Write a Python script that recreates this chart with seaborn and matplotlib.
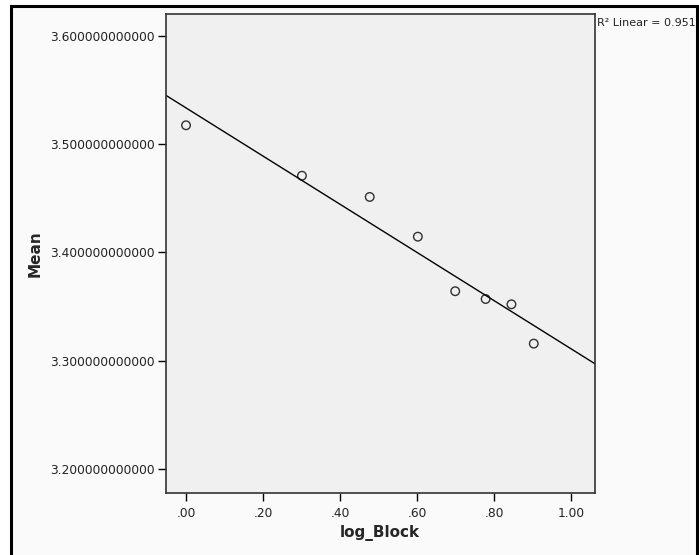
import numpy as np
import pandas as pd
import seaborn as sns
import matplotlib.pyplot as plt
from matplotlib.patches import Rectangle

# Data
log_block = [0.000, 0.301, 0.477, 0.602, 0.699, 0.778, 0.845, 0.903]
mean_vals = [3.5175, 3.4709, 3.4513, 3.4146, 3.3642, 3.3570, 3.3521, 3.3158]
x_ticks = [0.0, 0.2, 0.4, 0.6, 0.8, 1.0]
x_tick_labels = [".00", ".20", ".40", ".60", ".80", "1.00"]
y_ticks = [3.2, 3.3, 3.4, 3.5, 3.6]
y_tick_labels = ["3.200000000000", "3.300000000000", "3.400000000000",
                 "3.500000000000", "3.600000000000"]
r2_text = "R\u00b2 Linear = 0.951"

df = pd.DataFrame({"log_Block": log_block, "Mean": mean_vals})

sns.set_style("white")
plt.rcParams["font.family"] = ["DejaVu Sans"]

fig = plt.figure(figsize=(6.99, 5.55), dpi=100)
fig.patch.set_facecolor("white")

# outer frame (light background with black border)
frame = Rectangle((10.5 / 699, -0.02), (697 - 10.5) / 699, 1 - 5.5 / 555 + 0.02,
                  transform=fig.transFigure, facecolor="#fafafa",
                  edgecolor="black", linewidth=2.2, zorder=-5)
fig.patches.append(frame)

ax = fig.add_axes([166 / 699, 1 - 493 / 555, (595 - 166) / 699, (493 - 14) / 555])
ax.set_zorder(2)
ax.set_facecolor("#f0f0f0")
ax.set_xlim(-0.052, 1.062)
ax.set_ylim(3.1778, 3.6203)

sns.regplot(data=df, x="log_Block", y="Mean", ax=ax, ci=None, truncate=False,
            scatter_kws=dict(s=38, facecolors="none", edgecolors="black",
                             linewidths=1.0, zorder=3),
            line_kws=dict(color="black", linewidth=1.0, zorder=2))
ax.set_xlim(-0.052, 1.062)
ax.set_ylim(3.1778, 3.6203)

ax.set_xticks(x_ticks)
ax.set_xticklabels(x_tick_labels, fontsize=8.8)
ax.set_yticks(y_ticks)
ax.set_yticklabels(y_tick_labels, fontsize=8.8)
ax.tick_params(axis="both", direction="out", length=6, width=1.0, color="black",
               pad=2, labelcolor="#222222")
ax.tick_params(axis="x", pad=4)
ax.tick_params(axis="both", which="both", bottom=True, left=True)

for side in ["left", "right", "top", "bottom"]:
    ax.spines[side].set_visible(True)
    ax.spines[side].set_color("#333333")
    ax.spines[side].set_linewidth(1.2)

ax.set_xlabel("log_Block", fontsize=11, fontweight="bold")
ax.set_ylabel("Mean", fontsize=11, fontweight="bold")
ax.xaxis.set_label_coords((380 - 166) / 429, (493 - 525) / 479)
ax.yaxis.set_label_coords((43 - 166) / 429, 0.5)

fig.text(597 / 699, 1 - 23 / 555, r2_text, fontsize=8, ha="left", va="center",
         color="#222222", zorder=3)

fig.savefig("out.png", dpi=100)
